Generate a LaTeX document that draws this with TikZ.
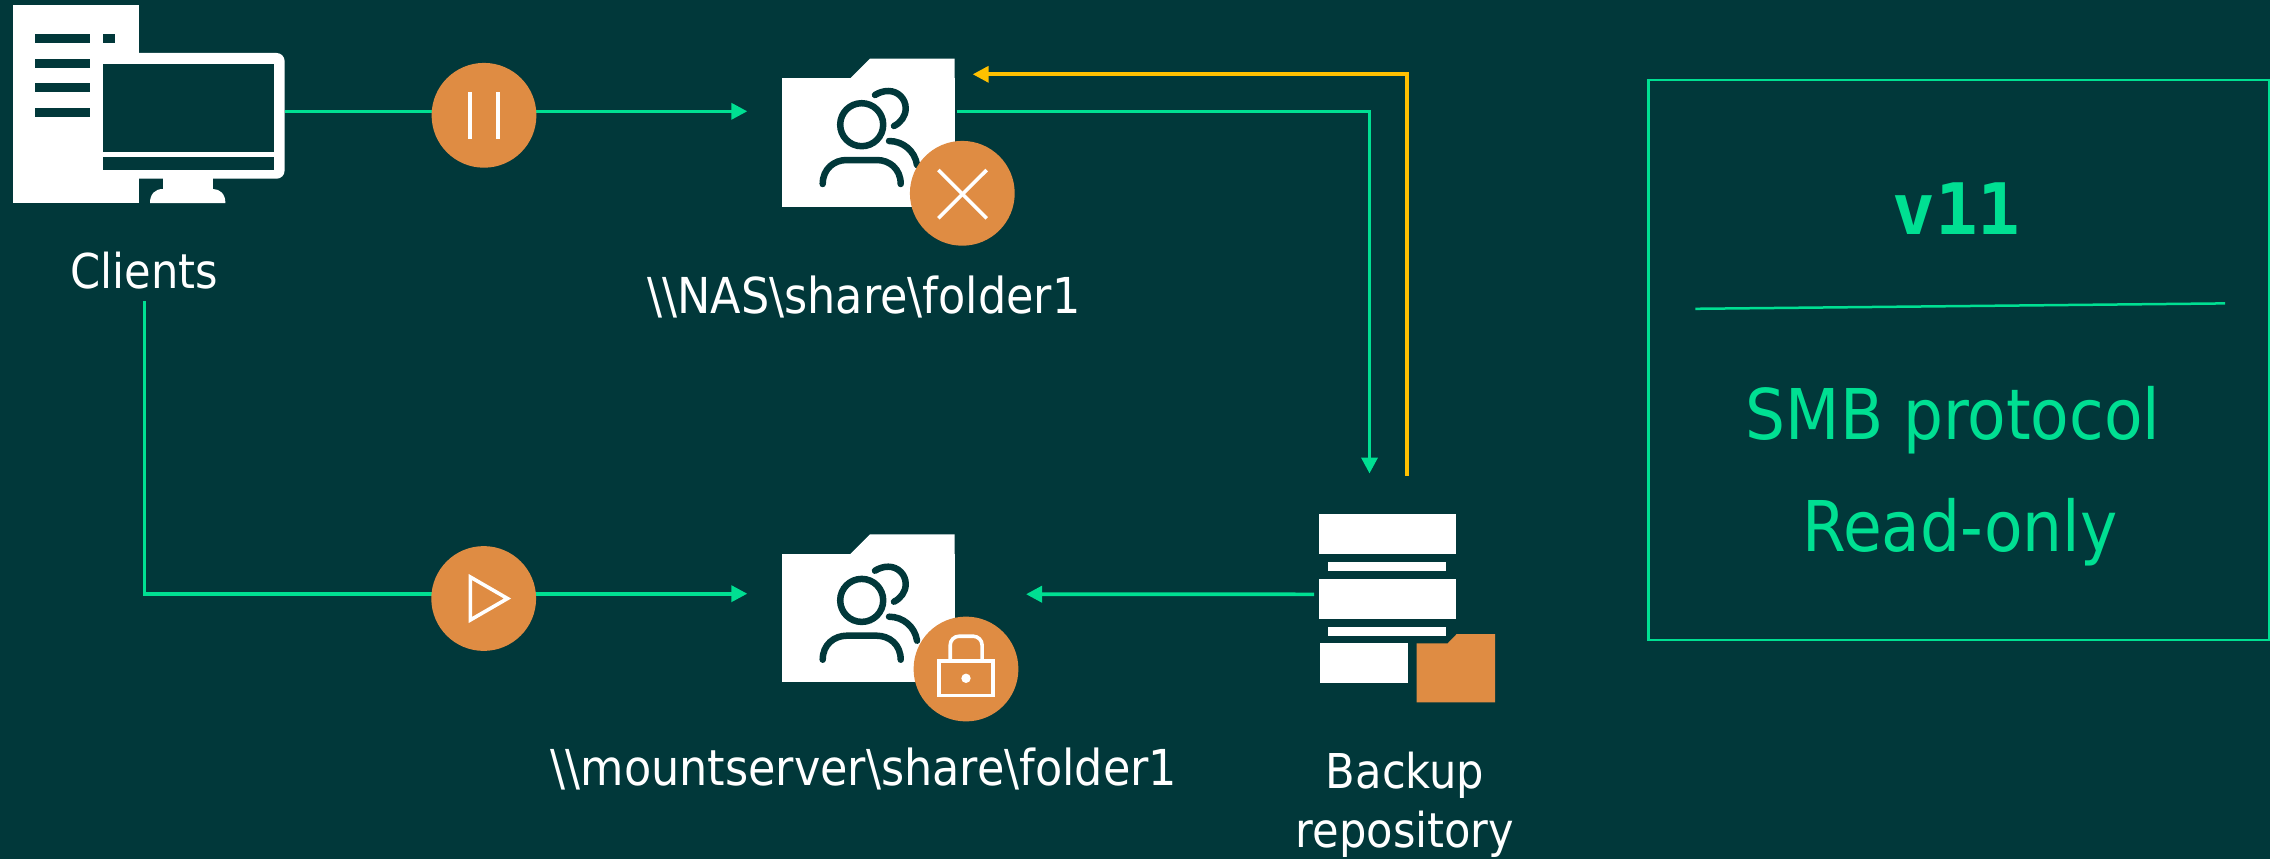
\documentclass[tikz,border=0pt]{standalone}
\usepackage{fontspec}
\setmainfont{DejaVu Sans Condensed}
\newfontfamily\versionfont{DejaVu Sans Mono}
\usetikzlibrary{arrows.meta}
\definecolor{bgteal}{HTML}{01383A}
\definecolor{linkgreen}{HTML}{00DF92}
\definecolor{badgeorange}{HTML}{DF8C43}
\definecolor{linkyellow}{HTML}{FFC000}

\begin{document}
\begin{tikzpicture}
    [x=1pt, y=-1pt,
    every node/.style = {inner sep=0pt, outer sep=0pt},
    caption/.style = {text=white, font=\fontsize{48}{58}\selectfont, anchor=base},
    pathcaption/.style = {text=white, font=\fontsize{49.5}{60}\selectfont, anchor=base},
    paneltext/.style = {text=linkgreen, font=\fontsize{70}{84}\selectfont, anchor=base},
    whitebox/.style = {rectangle, fill=white},
    badge/.style = {circle, fill=badgeorange, minimum size=104.8pt},
    badgemark/.style = {draw=white, line width=3.6pt},
    greenlink/.style = {draw=linkgreen, line width=3.6pt, -{Triangle[length=16pt,width=16pt]}},
    yellowlink/.style = {draw=linkyellow, line width=3.6pt, -{Triangle[length=16pt,width=16pt]}},
    usersline/.style = {draw=bgteal, line width=6.5pt, line cap=round},
    sharefolder/.pic = {
        \node (-body) [whitebox, minimum width=172.4pt, minimum height=128.4pt] at (86.2,83.8) {};
        \fill[white] (67.7,20) -- (87.7,0) -- (172.4,0) -- (172.4,20) -- cycle;
        \draw[usersline] (79.4,66) circle[radius=21.5pt];
        \draw[usersline] (40.4,125.3) .. controls (40.4,110) and (52,101.3) .. (64.4,101.3) -- (94.4,101.3)
            .. controls (107,101.3) and (118.4,110) .. (118.4,125.3);
        \draw[usersline] (92.7,36.3) .. controls (96.7,33.8) and (101.2,32.3) .. (106,32.3)
            .. controls (115.7,32.3) and (123.4,40) .. (123.4,49.6)
            .. controls (123.4,57.3) and (118.7,63.8) .. (111.7,67.3);
        \draw[usersline] (106.7,82.3) .. controls (120.7,82.3) and (132.7,92.3) .. (134.7,106.3);
    }
    ]
    \fill[bgteal] (0,0) rectangle (2270,859);
    \useasboundingbox (0,0) rectangle (2270,859);

    \node (tower) [whitebox, minimum width=126.5pt, minimum height=197.7pt] at (75.75,104.15) {};
    \node (monitor) [rectangle, rounded corners=8pt, fill=white, minimum width=192.6pt, minimum height=125.7pt] at (188.3,115.85) {};
    \fill[bgteal] (102.5,64) rectangle (274,151.7);
    \fill[bgteal] (102.5,157.3) rectangle (274,170.3);
    \fill[bgteal] (35,34) rectangle (89.6,43);
    \fill[bgteal] (102.5,34) rectangle (115,43);
    \fill[bgteal] (35,59) rectangle (89.6,68);
    \fill[bgteal] (35,83.3) rectangle (89.6,92.3);
    \fill[bgteal] (35,108) rectangle (89.6,117);
    \fill[white] (162.5,178) rectangle (213,190);
    \fill[white] (150,203) .. controls (150,194) and (155,189) .. (163,189) -- (213,189) .. controls (220,189) and (225.4,194) .. (225.4,203) -- cycle;
    \node (clients) [caption] at (144.3,288) {Clients};

    \pic (nas) at (782.3,58.7) {sharefolder};
    \pic (mount) at (782.3,534.4) {sharefolder};
    \node (naslabel) [pathcaption] at (864,313) {\textbackslash\textbackslash NAS\textbackslash share\textbackslash folder1};
    \node (mountlabel) [pathcaption] at (864,785) {\textbackslash\textbackslash mountserver\textbackslash share\textbackslash folder1};

    \node (rack1) [whitebox, minimum width=137pt, minimum height=40pt] at (1387.5,534) {};
    \node (slot1) [whitebox, minimum width=118pt, minimum height=9pt] at (1387,566.5) {};
    \node (rack2) [whitebox, minimum width=137pt, minimum height=40pt] at (1387.5,599) {};
    \node (slot2) [whitebox, minimum width=118pt, minimum height=9pt] at (1387,631.5) {};
    \node (rack3) [whitebox, minimum width=88pt, minimum height=40pt] at (1364,663) {};
    \fill[badgeorange] (1416.7,643.3) -- (1447.7,643.3) -- (1456.7,634) -- (1495,634) -- (1495,702.3) -- (1416.7,702.3) -- cycle;
    \node (backup) [caption] at (1405,788) {Backup};
    \node (repository) [caption] at (1405,847) {repository};

    \coordinate (nasin) at ([xshift=-35pt,yshift=31.2pt]nas-body.west);
    \coordinate (mountin) at ([xshift=-35pt,yshift=24.5pt]mount-body.west);
    \draw[greenlink] (monitor.east |- nasin) -- (nasin);
    \draw[greenlink] ([yshift=-13pt]clients.base) |- (mountin);
    \draw[greenlink] ([xshift=2pt,yshift=31pt]nas-body.east) -| ([xshift=-18pt,yshift=40.5pt]rack1.north);
    \draw[yellowlink] ([xshift=19.5pt,yshift=38.3pt]rack1.north) |- ([xshift=18pt,yshift=68.2pt]nas-body.east);
    \draw[greenlink] ([xshift=-5pt,yshift=4.7pt]rack2.west) -- ([xshift=71.3pt,yshift=24pt]mount-body.east);

    \node (pausebadge) [badge] at (484,115.3) {};
    \draw[badgemark] (470,92) -- (470,138.7);
    \draw[badgemark] (498,92) -- (498,138.7);
    \node (playbadge) [badge] at (483.7,598.5) {};
    \draw[badgemark, line join=miter] (470.3,577) -- (507.5,598.5) -- (470.3,620) -- cycle;
    \node (stopbadge) [badge] at (962.3,193.3) {};
    \draw[badgemark] (938.3,170) -- (986.7,218.3);
    \draw[badgemark] (938.3,218.3) -- (986.7,170);
    \node (lockbadge) [badge] at (966,669) {};
    \draw[badgemark] (939.2,660.8) rectangle (992.8,695.5);
    \draw[badgemark, rounded corners=9pt] (950.2,660.8) -- (950.2,636.2) -- (982.1,636.2) -- (982.1,660.8);
    \fill[white] (966,678.3) circle[radius=4.7pt];

    \node (panel) [rectangle, draw=linkgreen, line width=2.5pt, minimum width=620.4pt, minimum height=559.8pt] at (1958.6,359.9) {};
    \node (version) [text=linkgreen, anchor=base, font=\versionfont\bfseries\fontsize{71}{85}\selectfont] at (1956.5,234) {v11};
    \draw[draw=linkgreen, line width=2.5pt] (1695.3,308.8) -- (2225,303.4);
    \node (protocol) [paneltext] at (1953,439.6) {SMB protocol};
    \node (mode) [paneltext] at (1960,551.8) {Read-only};
\end{tikzpicture}
\end{document}
